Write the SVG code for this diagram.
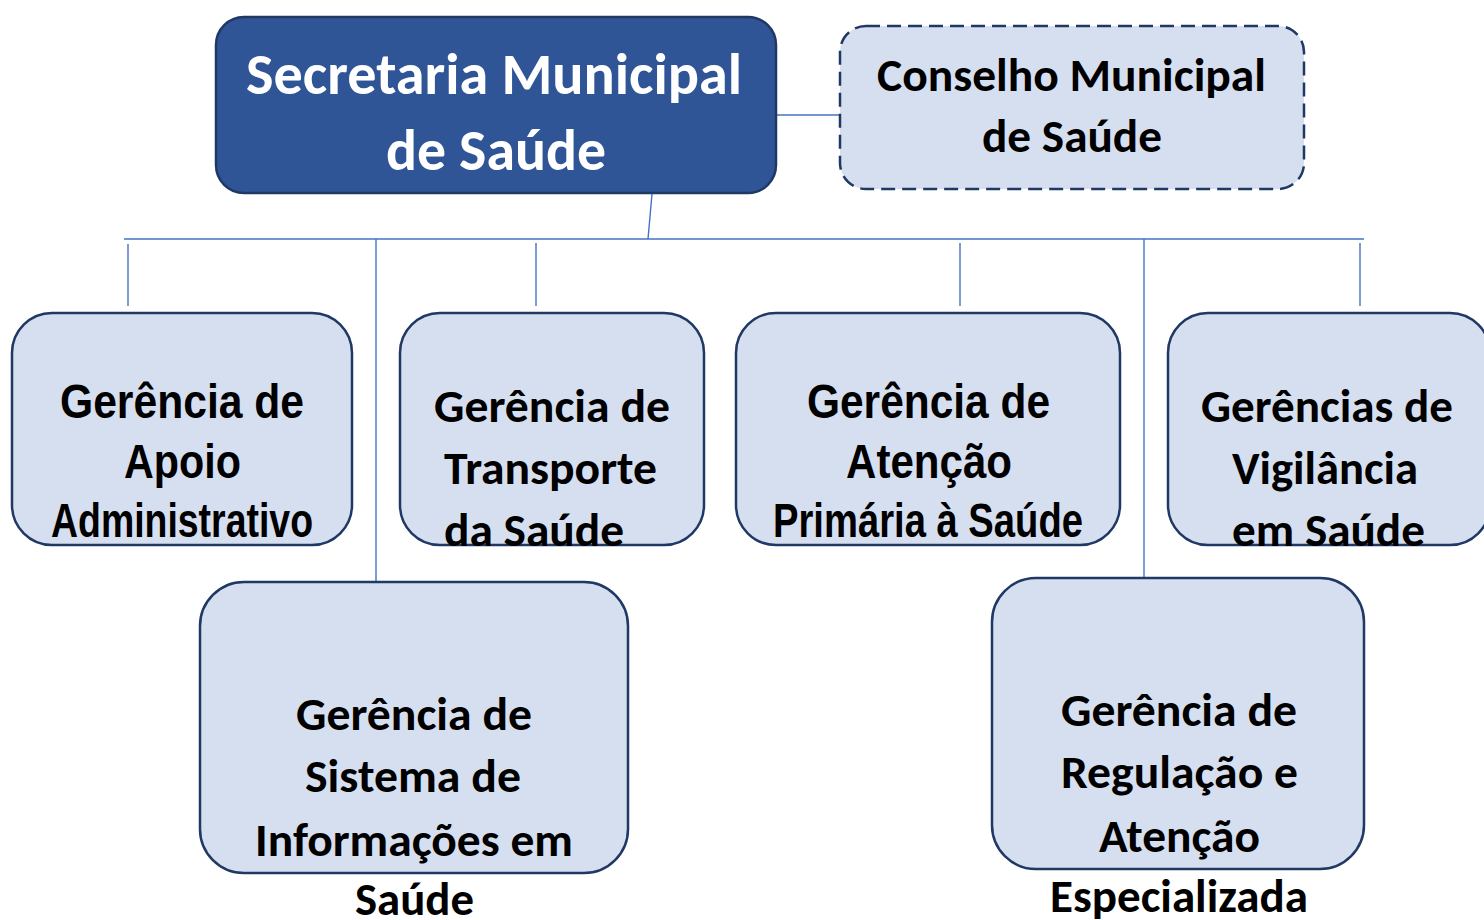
<svg xmlns="http://www.w3.org/2000/svg" width="1484" height="920" viewBox="0 0 1484 920">
<style>
.box{fill:#D6DFF0;stroke:#203864;stroke-width:2.5}
.main{fill:#2F5597;stroke:#203864;stroke-width:2.5}
.dash{fill:#D6DFF0;stroke:#203864;stroke-width:2.5;stroke-dasharray:14 7}
.c{fill:none;stroke:#4472C4;stroke-width:1.4}
.t{font-family:Carlito,Lato,"Open Sans",sans-serif;font-weight:700;font-size:46px;fill:#000;text-anchor:start}
.n{font-family:"Liberation Sans Narrow","Liberation Sans",Arial,sans-serif;font-weight:700;font-size:49px;fill:#000}
.w{fill:#fff;font-size:58px}
</style>
<defs>
<clipPath id="cp2"><rect x="400" y="313" width="304" height="233"/></clipPath>
<clipPath id="cp4"><rect x="1168" y="313" width="330" height="233"/></clipPath>
</defs>
<rect width="1484" height="920" fill="#fff"/>
<g id="connectors">
<line class="c" x1="776" y1="115" x2="840" y2="115"/>
<line class="c" x1="652" y1="194" x2="648" y2="239"/>
<line class="c" x1="124" y1="239" x2="1364" y2="239"/>
<line class="c" x1="128" y1="244" x2="128" y2="306"/>
<line class="c" x1="376" y1="239" x2="376" y2="581"/>
<line class="c" x1="536" y1="243" x2="536" y2="306"/>
<line class="c" x1="960" y1="243" x2="960" y2="306"/>
<line class="c" x1="1144" y1="239" x2="1144" y2="577"/>
<line class="c" x1="1360" y1="243" x2="1360" y2="306"/>
</g>
<g id="secretaria">
<rect class="main" x="216" y="17" width="560" height="176" rx="28"/>
<text class="t w" x="246" y="94" textLength="496" lengthAdjust="spacingAndGlyphs">Secretaria Municipal</text>
<text class="t w" x="386" y="170" textLength="220" lengthAdjust="spacingAndGlyphs">de Saúde</text>
</g>
<g id="conselho">
<rect class="dash" x="840" y="26" width="464" height="163" rx="26"/>
<text class="t" x="877" y="91" textLength="389" lengthAdjust="spacingAndGlyphs">Conselho Municipal</text>
<text class="t" x="982" y="152" textLength="180" lengthAdjust="spacingAndGlyphs">de Saúde</text>
</g>
<g id="apoio">
<rect class="box" x="12" y="313" width="340" height="232" rx="40"/>
<text class="n" x="60" y="418" textLength="244" lengthAdjust="spacingAndGlyphs">Gerência de</text>
<text class="n" x="124" y="478" textLength="117" lengthAdjust="spacingAndGlyphs">Apoio</text>
<text class="n" x="51" y="537" textLength="262" lengthAdjust="spacingAndGlyphs">Administrativo</text>
</g>
<g id="transporte">
<rect class="box" x="400" y="313" width="304" height="232" rx="40"/>
<g clip-path="url(#cp2)">
<text class="t" x="434" y="422" textLength="236" lengthAdjust="spacingAndGlyphs">Gerência de</text>
<text class="t" x="444" y="484" textLength="213" lengthAdjust="spacingAndGlyphs">Transporte</text>
<text class="t" x="444" y="546" textLength="180" lengthAdjust="spacingAndGlyphs">da Saúde</text>
</g>
</g>
<g id="atencao-primaria">
<rect class="box" x="736" y="313" width="384" height="232" rx="40"/>
<text class="n" x="807" y="418" textLength="243" lengthAdjust="spacingAndGlyphs">Gerência de</text>
<text class="n" x="846" y="478" textLength="166" lengthAdjust="spacingAndGlyphs">Atenção</text>
<text class="n" x="773" y="537" textLength="310" lengthAdjust="spacingAndGlyphs">Primária à Saúde</text>
</g>
<g id="vigilancia">
<rect class="box" x="1168" y="313" width="322" height="232" rx="40"/>
<g clip-path="url(#cp4)">
<text class="t" x="1201" y="422" textLength="252" lengthAdjust="spacingAndGlyphs">Gerências de</text>
<text class="t" x="1232" y="484" textLength="186" lengthAdjust="spacingAndGlyphs">Vigilância</text>
<text class="t" x="1232" y="546" textLength="193" lengthAdjust="spacingAndGlyphs">em Saúde</text>
</g>
</g>
<g id="sistema">
<rect class="box" x="200" y="582" width="428" height="291" rx="44"/>
<text class="t" x="296" y="730" textLength="236" lengthAdjust="spacingAndGlyphs">Gerência de</text>
<text class="t" x="305" y="792" textLength="216" lengthAdjust="spacingAndGlyphs">Sistema de</text>
<text class="t" x="255" y="856" textLength="318" lengthAdjust="spacingAndGlyphs">Informações em</text>
<text class="t" x="355" y="915" textLength="119" lengthAdjust="spacingAndGlyphs">Saúde</text>
</g>
<g id="regulacao">
<rect class="box" x="992" y="578" width="372" height="291" rx="44"/>
<text class="t" x="1061" y="726" textLength="236" lengthAdjust="spacingAndGlyphs">Gerência de</text>
<text class="t" x="1061" y="788" textLength="237" lengthAdjust="spacingAndGlyphs">Regulação e</text>
<text class="t" x="1099" y="852" textLength="161" lengthAdjust="spacingAndGlyphs">Atenção</text>
<text class="t" x="1050" y="912" textLength="258" lengthAdjust="spacingAndGlyphs">Especializada</text>
</g>
</svg>
